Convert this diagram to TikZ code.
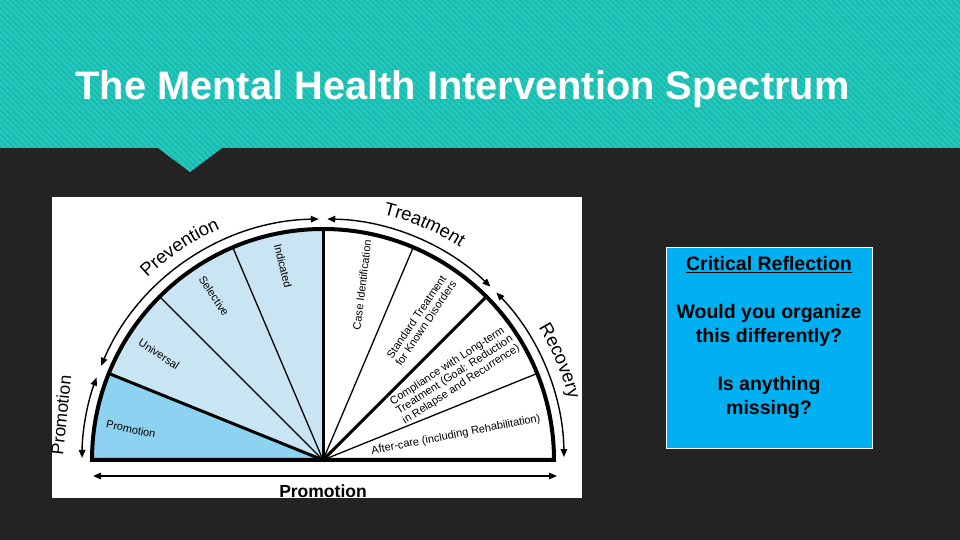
\documentclass[tikz,border=0pt]{standalone}
\usepackage{fontspec}
\setmainfont{Liberation Sans}
\usetikzlibrary{arrows.meta,patterns.meta,decorations.text}
\definecolor{slidebg}{HTML}{232323}
\definecolor{bartop}{HTML}{17BDB1}
\definecolor{barline}{HTML}{34CCC0}
\definecolor{prevblue}{HTML}{C9E4F2}
\definecolor{promblue}{HTML}{8DD3F1}
\definecolor{boxblue}{HTML}{00B0F0}
\begin{document}
\begin{tikzpicture}[x=1pt,y=1pt,
  spoke/.style={line width=1.3pt},
  mainspoke/.style={line width=3pt},
  span/.style={line width=1.4pt,{Triangle[length=8pt,width=6.5pt]}-{Triangle[length=8pt,width=6.5pt]}},
  sector/.style={font=\fontsize{11}{11.5}\selectfont,inner sep=0pt,align=center},
  bend label/.style={decorate,decoration={text along path,text align=center,
    text={|\fontsize{18.5}{18.5}\selectfont|#1}}}]
\useasboundingbox (0,0) rectangle (960,540);
\fill[slidebg] (0,0) rectangle (960,540);
\fill[bartop] (0,392) -- (158,392) -- (190,368) -- (222,392) -- (960,392) -- (960,540) -- (0,540) -- cycle;
\fill[pattern={Lines[angle=-45,distance=4pt,line width=1.5pt]},pattern color=barline]
  (0,392) -- (158,392) -- (190,368) -- (222,392) -- (960,392) -- (960,540) -- (0,540) -- cycle;
\node (title) [anchor=base west,text=white,font=\fontsize{39.8}{40}\selectfont\bfseries]
  at (72,440) {The Mental Health Intervention Spectrum};
\fill[white] (52,42) rectangle (582,343);
\coordinate (c) at (323,80);
\fill[prevblue] (c) -- ++(158:231) arc[start angle=158,end angle=90,radius=231] -- cycle;
\fill[promblue] (c) -- ++(180:231) arc[start angle=180,end angle=158,radius=231] -- cycle;
\foreach \a in {135,113,67,22} \draw[spoke] (c) -- ++(\a:231);
\foreach \a in {158,90,45} \draw[mainspoke] (c) -- ++(\a:231);
\draw[line width=4pt] (c) ++(0:231) arc[start angle=0,end angle=180,radius=231] -- cycle;
\draw[span] (c) ++(179.5:241) arc[start angle=179.5,end angle=160,radius=241];
\draw[span] (c) ++(157:241) arc[start angle=157,end angle=91,radius=241];
\draw[span] (c) ++(89:241) arc[start angle=89,end angle=46,radius=241];
\draw[span] (c) ++(44:241) arc[start angle=44,end angle=0.7,radius=241];
\coordinate (bl) at (93,64);
\coordinate (br) at (557,64);
\draw[span] (bl) -- (br);
\node (promo) [font=\fontsize{17.5}{18}\selectfont\bfseries] at (323,49) {Promotion};
\node (promoside) [rotate=84,font=\fontsize{17.5}{18}\selectfont] at (61,125) {Promotion};
\path[bend label=Prevention] (c) ++(154:253) arc[start angle=154,end angle=94,radius=253];
\path[bend label=Treatment] (c) ++(86.7:253) arc[start angle=86.7,end angle=46.7,radius=253];
\path[bend label=Recovery] (c) ++(42.7:253) arc[start angle=42.7,end angle=2.7,radius=253];
\node (indicated) [sector,rotate=-76] at (283,274) {Indicated};
\node (selective) [sector,rotate=-56] at (214,244) {Selective};
\node (universal) [sector,rotate=-33] at (159,186) {Universal};
\node (promosector) [sector,rotate=-12] at (131,111) {Promotion};
\node (caseid) [sector,rotate=83] at (362,255) {Case Identification};
\node (standard) [sector,rotate=56] at (421,220) {Standard Treatment\\for Known Disorders};
\node (compliance) [sector,rotate=33,align=left] at (455,165)
  {Compliance with Long-term\\Treatment (Goal: Reduction\\in Relapse and Recurrence)};
\node (aftercare) [sector,rotate=11] at (456,105) {After-care (including Rehabilitation)};
\node (reflectbox) [draw=white,fill=boxblue,line width=0.8pt,minimum width=206,minimum height=201] at (769,192.5) {};
\node (reflect) [align=center,font=\fontsize{19.5}{24}\selectfont\bfseries] at (769,202)
  {\underline{Critical Reflection}\\[24pt]Would you organize\\this differently?\\[24pt]Is anything\\missing?};
\end{tikzpicture}
\end{document}
